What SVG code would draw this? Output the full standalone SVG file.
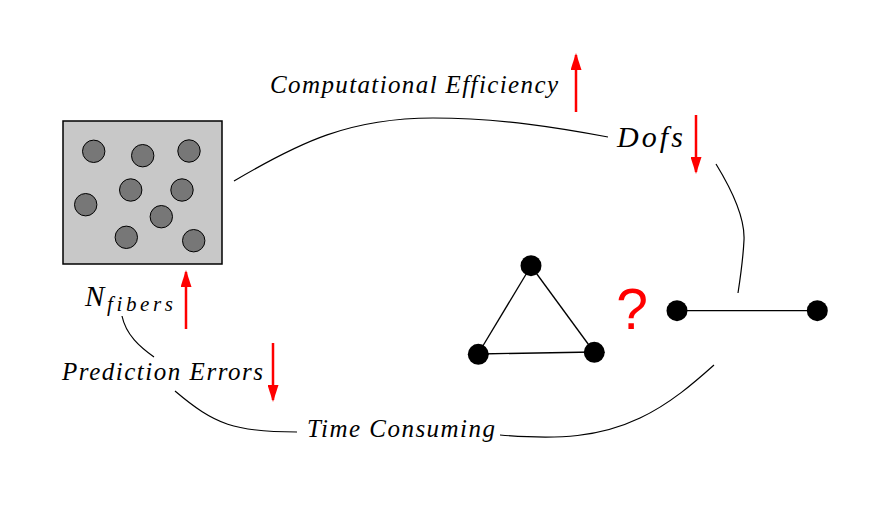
<svg xmlns="http://www.w3.org/2000/svg" width="895" height="512" viewBox="0 0 895 512">
<style>
.lbl{font-family:"Liberation Serif","DejaVu Serif",serif;font-style:italic;fill:#000}
.conn{fill:none;stroke:#000;stroke-width:1.2}
.red{stroke:#ff0000;stroke-width:2.5;fill:none}
.fiber{fill:#777777;stroke:#000;stroke-width:1}
.dot{fill:#000}
.edge{stroke:#000;stroke-width:1.3}
</style>
<defs>
<marker id="ah" viewBox="0 0 17 11" refX="15" refY="5.5" markerWidth="17" markerHeight="11" markerUnits="userSpaceOnUse" orient="auto">
<path d="M0,0 L17,5.5 L0,11 Z" fill="#ff0000"/>
</marker>
</defs>
<rect width="895" height="512" fill="#fff"/>
<g id="connectors">
<path class="conn" d="M234,181 C300,142 350,118 433,118 C500,118 560,128 608,137"/>
<path class="conn" d="M716,164 C735,195 745,220 744,240 C743,260 740,280 738,293"/>
<path class="conn" d="M122,316 C126,335 140,347 154,357"/>
<path class="conn" d="M175,391 C215,425 235,432 297,432"/>
<path class="conn" d="M500,435 C560,440 600,437 640,418 C670,404 695,382 714,365"/>
</g>
<g id="arrows">
<line class="red" x1="576" y1="112" x2="576" y2="55" marker-end="url(#ah)"/>
<line class="red" x1="696" y1="115" x2="696" y2="172" marker-end="url(#ah)"/>
<line class="red" x1="186" y1="329" x2="186" y2="272" marker-end="url(#ah)"/>
<line class="red" x1="273" y1="343" x2="273" y2="400" marker-end="url(#ah)"/>
</g>
<g id="composite">
<rect x="63" y="121" width="159" height="143" fill="#c8c8c8" stroke="#000" stroke-width="1.5"/>
<circle class="fiber" cx="93.7" cy="151.3" r="11.2"/>
<circle class="fiber" cx="142.7" cy="155.7" r="11.2"/>
<circle class="fiber" cx="189" cy="151" r="11.2"/>
<circle class="fiber" cx="130.7" cy="190" r="11.2"/>
<circle class="fiber" cx="182" cy="190" r="11.2"/>
<circle class="fiber" cx="85.7" cy="204.7" r="11.2"/>
<circle class="fiber" cx="161.3" cy="216.7" r="11.2"/>
<circle class="fiber" cx="126.3" cy="237.3" r="11.2"/>
<circle class="fiber" cx="193.7" cy="240.7" r="11.2"/>
</g>
<g id="triangle">
<line class="edge" x1="531" y1="266" x2="478" y2="354"/>
<line class="edge" x1="531" y1="266" x2="594" y2="352"/>
<line class="edge" x1="478" y1="354" x2="594" y2="352"/>
<circle class="dot" cx="531" cy="265.7" r="10.5"/>
<circle class="dot" cx="478.3" cy="354.3" r="10.5"/>
<circle class="dot" cx="594.3" cy="352.3" r="10.5"/>
</g>
<g id="segment">
<line class="edge" x1="677" y1="310.7" x2="817" y2="310.7"/>
<circle class="dot" cx="677" cy="310.7" r="10.5"/>
<circle class="dot" cx="817.3" cy="310.7" r="10.5"/>
</g>
<g id="question">
<text x="632" y="329" text-anchor="middle" font-family="Liberation Sans, Arial, sans-serif" font-size="57" fill="#ff0000">?</text>
</g>
<g id="label-efficiency">
<text class="lbl" x="270" y="93" font-size="25" textLength="288" lengthAdjust="spacing">Computational Efficiency</text>
</g>
<g id="label-dofs">
<text class="lbl" x="617" y="146.7" font-size="30" textLength="66" lengthAdjust="spacing">Dofs</text>
</g>
<g id="label-nfibers">
<text class="lbl" x="85" y="306" font-size="29">N</text>
<text class="lbl" x="107" y="311" font-size="21" textLength="66" lengthAdjust="spacing">fibers</text>
</g>
<g id="label-errors">
<text class="lbl" x="62" y="380" font-size="25" textLength="201" lengthAdjust="spacing">Prediction Errors</text>
</g>
<g id="label-time">
<text class="lbl" x="307" y="436.7" font-size="25" textLength="188" lengthAdjust="spacing">Time Consuming</text>
</g>
</svg>
